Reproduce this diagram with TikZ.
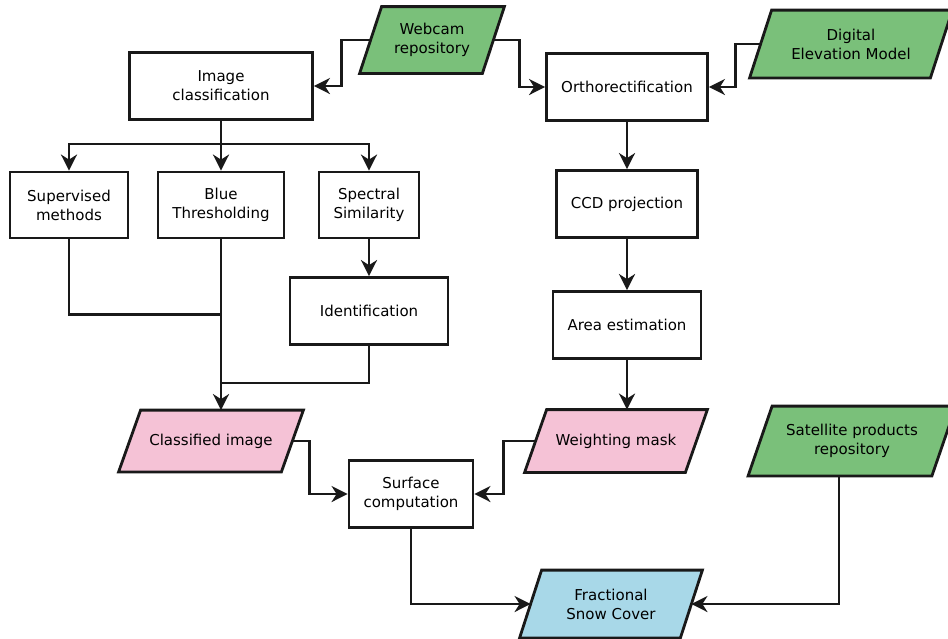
\documentclass[tikz,border=0pt]{standalone}
\usepackage{fontspec}
\setmainfont{DejaVu Sans}
\usetikzlibrary{arrows.meta,backgrounds}
\definecolor{srcgreen}{RGB}{122,192,122}
\definecolor{midpink}{RGB}{245,194,214}
\definecolor{outblue}{RGB}{168,216,232}
\tikzset{
  base/.style={line width=2.8pt, inner sep=0pt, align=center,
               font=\fontsize{15}{19}\selectfont},
  procbox/.style={base, rectangle, draw=black!90},
  iobox/.style={base, rectangle},
  ioshape/.style={draw=black!90, line width=2.8pt, line join=miter},
  link/.style={draw=black!90, line width=2.8pt},
  arr/.style={link, -{Stealth[length=16pt,width=16pt,inset=5pt]}},
}
% parallelogram drawn round a named node: #1 half slant, #2 node, #3 fill colour
\newcommand\slantframe[3][11]{%
  \path[ioshape, fill=#3]
    ([xshift=#1pt]#2.north west) -- ([xshift=#1pt]#2.north east)
    -- ([xshift=-#1pt]#2.south east) -- ([xshift=-#1pt]#2.south west) -- cycle;}
\begin{document}
\begin{tikzpicture}[x=1pt,y=-1pt]
\useasboundingbox (0,0) rectangle (948,638);

% inputs
\node[iobox, minimum width=120pt, minimum height=64pt] (web) at (432,40) {Webcam\\repository};
\node[iobox, minimum width=178pt, minimum height=65pt] (dem) at (851,44) {Digital\\Elevation Model};

% image branch
\node[procbox, minimum width=183pt, minimum height=67pt] (img) at (221,86) {Image\\classification};
\node[procbox, minimum width=118pt, minimum height=66pt] (sup) at (69,205) {Supervised\\methods};
\node[procbox, minimum width=126pt, minimum height=66pt] (blue) at (221,205) {Blue\\Thresholding};
\node[procbox, minimum width=100pt, minimum height=66pt] (spec) at (369,205) {Spectral\\Similarity};
\node[procbox, minimum width=158pt, minimum height=67pt] (ident) at (369,311) {Identification};
\node[iobox, minimum width=160pt, minimum height=59pt] (cls) at (211,441) {Classified image};

% geometry branch
\node[procbox, minimum width=161pt, minimum height=67pt] (orth) at (627,87) {Orthorectification};
\node[procbox, minimum width=141pt, minimum height=67pt] (ccd) at (627,204) {CCD projection};
\node[procbox, minimum width=148pt, minimum height=67pt] (area) at (627,325) {Area estimation};
\node[iobox, minimum width=158pt, minimum height=60pt] (wm) at (616,441) {Weighting mask};

% merge and output
\node[procbox, minimum width=124pt, minimum height=67pt] (surf) at (411,494) {Surface\\computation};
\node[iobox, minimum width=181pt, minimum height=67pt] (sat) at (852,441) {Satellite products\\repository};
\node[iobox, minimum width=158pt, minimum height=65pt] (fsc) at (611,604) {Fractional\\Snow Cover};

\begin{scope}[on background layer]
  \slantframe{web}{srcgreen}
  \slantframe{dem}{srcgreen}
  \slantframe[12]{sat}{srcgreen}
  \slantframe{cls}{midpink}
  \slantframe{wm}{midpink}
  \slantframe{fsc}{outblue}
\end{scope}

% connectors from the webcam and the elevation model
\draw[arr] (web.west) -- ++(-29,0) |- (img.east);
\draw[arr] (web.east) -- ++(26,0) |- (orth.west);
\draw[arr] (dem.west) -- ++(-25,0) |- (orth.east);

% classification split
\draw[link] (img.south) -- ++(0,23) coordinate (split);
\draw[arr] (split) -| (sup.north);
\draw[arr] (split) -- (blue.north);
\draw[arr] (split) -| (spec.north);
\draw[arr] (spec.south) -- (ident.north);

% classification merge
\draw[link] (sup.south) -- ++(0,75) coordinate (supturn) -- (supturn -| blue.south);
\draw[arr] (blue.south) -- (blue.south |- cls.north);
\draw[link] (ident.south) -- ++(0,37) coordinate (identturn) -- (identturn -| blue.south);

% geometry chain
\draw[arr] (orth.south) -- (ccd.north);
\draw[arr] (ccd.south) -- (area.north);
\draw[arr] (area.south) -- (area.south |- wm.north);

% surface and final product
\draw[arr] (cls.east) -- ++(17,0) |- (surf.west);
\draw[arr] (wm.west) -- ++(-32,0) |- (surf.east);
\draw[arr] (surf.south) |- (fsc.west);
\draw[arr] ([xshift=-13pt]sat.south) |- (fsc.east);
\end{tikzpicture}
\end{document}
